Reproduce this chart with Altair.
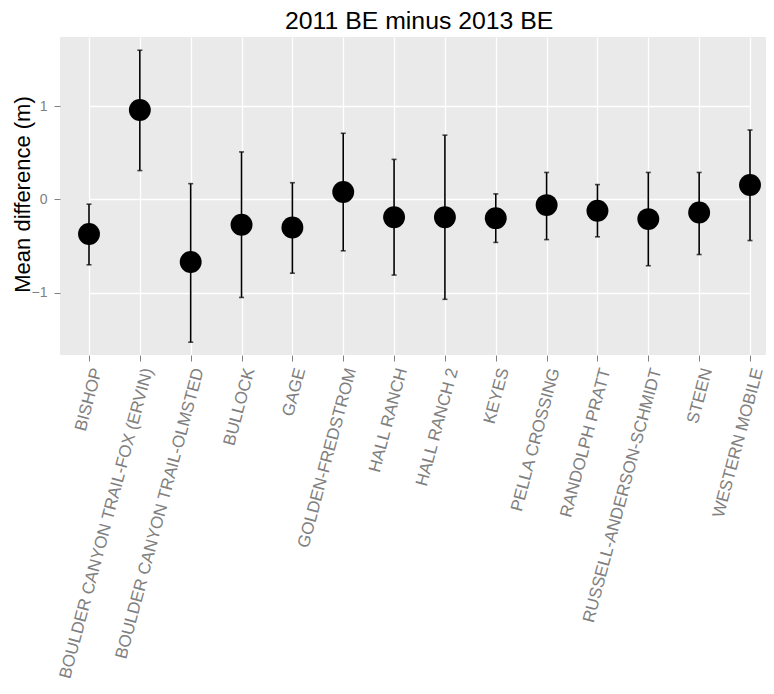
import altair as alt
import pandas as pd

sites = ["BISHOP", "BOULDER CANYON TRAIL-FOX (ERVIN)", "BOULDER CANYON TRAIL-OLMSTED",
         "BULLOCK", "GAGE", "GOLDEN-FREDSTROM", "HALL RANCH", "HALL RANCH 2", "KEYES",
         "PELLA CROSSING", "RANDOLPH PRATT", "RUSSELL-ANDERSON-SCHMIDT", "STEEN", "WESTERN MOBILE"]
means = [-0.37, 0.96, -0.67, -0.27, -0.30, 0.08, -0.19, -0.19, -0.20, -0.06, -0.12, -0.21, -0.14, 0.155]
upper = [-0.05, 1.60, 0.17, 0.51, 0.18, 0.71, 0.43, 0.69, 0.06, 0.29, 0.16, 0.29, 0.29, 0.745]
lower = [-0.70, 0.31, -1.53, -1.05, -0.79, -0.55, -0.81, -1.07, -0.46, -0.43, -0.40, -0.71, -0.59, -0.44]

df = pd.DataFrame({"site": sites, "mean": means, "upper": upper, "lower": lower})

FONT = "Liberation Sans"

x_enc = alt.X("site:N", sort=sites, title=None,
              scale=alt.Scale(type="point", range=[29, 690], padding=0),
              axis=alt.Axis(labelAngle=-75, labelAlign="right", labelBaseline="top",
                            labelFontSize=17, labelColor="#808080", labelFont=FONT,
                            labelLimit=500, labelPadding=5, labelOverlap=False,
                            tickColor="#808080", tickSize=6, tickWidth=1,
                            domain=False, grid=True, gridColor="white", gridWidth=1.3))
y_scale = alt.Scale(domain=[-1.667, 1.742], nice=False, zero=False)
y_axis = alt.Axis(values=[-1, 0, 1], format="d", labelFontSize=14, labelColor="#808080",
                  labelFont=FONT, labelPadding=7, tickColor="#808080", tickSize=6, tickWidth=1,
                  domain=False, grid=True, gridColor="white", gridWidth=1.3,
                  title="Mean difference (m)", titleFontSize=22, titleFont=FONT,
                  titleFontWeight="normal", titleColor="black", titleX=-38, titleY=157,
                  titleAngle=-90, titleAlign="center", titleBaseline="middle")

base = alt.Chart(df)

bars = base.mark_rule(color="black", strokeWidth=1.6).encode(
    x=x_enc,
    y=alt.Y("lower:Q", scale=y_scale, axis=y_axis),
    y2="upper:Q",
)
caps_hi = base.mark_tick(color="black", thickness=1.6, size=5, orient="horizontal").encode(
    x=alt.X("site:N", sort=sites), y=alt.Y("upper:Q"))
caps_lo = base.mark_tick(color="black", thickness=1.6, size=5, orient="horizontal").encode(
    x=alt.X("site:N", sort=sites), y=alt.Y("lower:Q"))
points = base.mark_circle(color="black", opacity=1, size=480).encode(
    x=alt.X("site:N", sort=sites), y=alt.Y("mean:Q"))

chart = alt.layer(bars, caps_hi, caps_lo, points).properties(
    width=706, height=318,
    background="white",
    title=alt.TitleParams("2011 BE minus 2013 BE", fontSize=24.8, font=FONT, color="black",
                          fontWeight="normal", anchor="start", frame="group",
                          baseline="alphabetic", offset=5, dx=225, dy=22),
    autosize=alt.AutoSizeParams(type="none"),
    padding={"left": 52, "top": 29, "right": 0, "bottom": 326},
).configure_view(fill="#EAEAEA", stroke=None)

chart.save("out.html", embed_options={"renderer": "svg", "actions": False})
